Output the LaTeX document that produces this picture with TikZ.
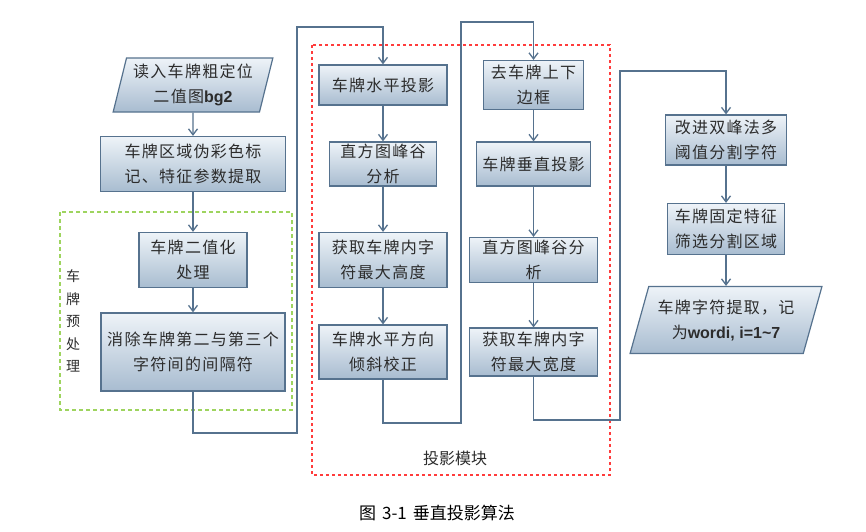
\documentclass[tikz,border=0pt]{standalone}
\usepackage{fontspec}
\newfontfamily\cjk{Noto Sans CJK SC}[LetterSpace=8]
\newfontfamily\cjkcap{Noto Sans CJK SC}
\newfontfamily\latb{Liberation Sans}
\usetikzlibrary{shapes.geometric,arrows.meta}
\definecolor{edge}{HTML}{56728E}
\definecolor{toptint}{HTML}{EEF3F8}
\definecolor{bottint}{HTML}{A8BCD0}
\definecolor{ink}{HTML}{2C2C2C}
\definecolor{prep}{HTML}{9ED45F}
\definecolor{proj}{HTML}{FF3C3C}

\begin{document}
\begin{tikzpicture}[x=1pt,y=-1pt]
        \tikzstyle{every node} = [font=\cjk\fontsize{16}{25}\selectfont, text=ink]
        \tikzstyle{box} = [rectangle, draw=edge, line width=1.2pt, top color=toptint,
                bottom color=bottint, align=center, inner sep=0pt]
        \tikzstyle{io} = [box, trapezium, trapezium stretches=true]
        \tikzstyle{link} = [draw=edge, line width=1.3pt, -{Straight Barb[length=6pt,width=9pt]}]
        \useasboundingbox (0,0) rectangle (866,531);
        % module frames
        \draw[prep, line width=1.6pt, dash pattern=on 4pt off 3pt] (60,212) rectangle (292,410);
        \draw[proj, line width=2pt, dash pattern=on 3pt off 3pt] (312,45) rectangle (610,475);
        \node (tag) at (73,321) [font=\cjkcap\fontsize{14}{22.5}\selectfont, align=center] {车\\牌\\预\\处\\理};
        \node (mod) at (455,458) [font=\cjkcap\fontsize{16}{18}\selectfont] {投影模块};
        % preprocessing
        \node[io, minimum width=160pt, minimum height=54pt, trapezium left angle=74,
                trapezium right angle=106] (p1) at (193,85) {读入车牌粗定位\\二值图{\latb\bfseries bg2}};
        \node[box, minimum width=185pt, minimum height=55pt] (b1) at (193,164) {车牌区域伪彩色标\\记、特征参数提取};
        \node[box, minimum width=108pt, minimum height=55pt] (b2) at (193,260) {车牌二值化\\处理};
        \node[box, minimum width=184pt, minimum height=78pt] (b3) at (193,352) {消除车牌第二与第三个\\字符间的间隔符};
        % horizontal projection
        \node[box, minimum width=128pt, minimum height=40pt] (h1) at (383,85) {车牌水平投影};
        \node[box, minimum width=107pt, minimum height=44pt] (h2) at (383,164) {直方图峰谷\\分析};
        \node[box, minimum width=128pt, minimum height=55pt] (h3) at (383,260) {获取车牌内字\\符最大高度};
        \node[box, minimum width=128pt, minimum height=54pt] (h4) at (383,352) {车牌水平方向\\倾斜校正};
        % vertical projection
        \node[box, minimum width=100pt, minimum height=49pt] (v1) at (533.5,85) {去车牌上下\\边框};
        \node[box, minimum width=114pt, minimum height=44pt] (v2) at (533.5,164) {车牌垂直投影};
        \node[box, minimum width=128pt, minimum height=45pt] (v3) at (533.5,260) {直方图峰谷分\\析};
        \node[box, minimum width=128pt, minimum height=48pt] (v4) at (533.5,352) {获取车牌内字\\符最大宽度};
        % segmentation
        \node[box, minimum width=121pt, minimum height=50pt] (s1) at (726,140) {改进双峰法多\\阈值分割字符};
        \node[box, minimum width=117pt, minimum height=51pt] (s2) at (726,229) {车牌固定特征\\筛选分割区域};
        \node[io, minimum width=192pt, minimum height=67pt, trapezium left angle=68,
                trapezium right angle=112] (p2) at (726,320) {车牌字符提取，记\\为{\latb\bfseries wordi, i=1\textasciitilde7}};
        % bends of the long connectors
        \coordinate (j1) at (297,433);
        \coordinate (j2) at (297,27);
        \coordinate (j3) at (461,423);
        \coordinate (j4) at (461,22);
        \coordinate (j5) at (620,420);
        \coordinate (j6) at (620,71);
        \foreach \from/\to in {p1/b1, b1/b2, b2/b3, h1/h2, h2/h3, h3/h4,
                v1/v2, v2/v3, v3/v4, s1/s2, s2/p2}
            \draw[link] (\from) -- (\to);
        \draw[link] (b3.south) |- (j1) -- (j2) -| (h1.north);
        \draw[link] (h4.south) |- (j3) -- (j4) -| (v1.north);
        \draw[link] (v4.south) |- (j5) -- (j6) -| (s1.north);
        \node (cap) at (437,513) [font=\cjkcap\fontsize{17}{18}\selectfont, text=black] {图\hspace{6pt}3-1\hspace{6pt}垂直投影算法};
\end{tikzpicture}
\end{document}
